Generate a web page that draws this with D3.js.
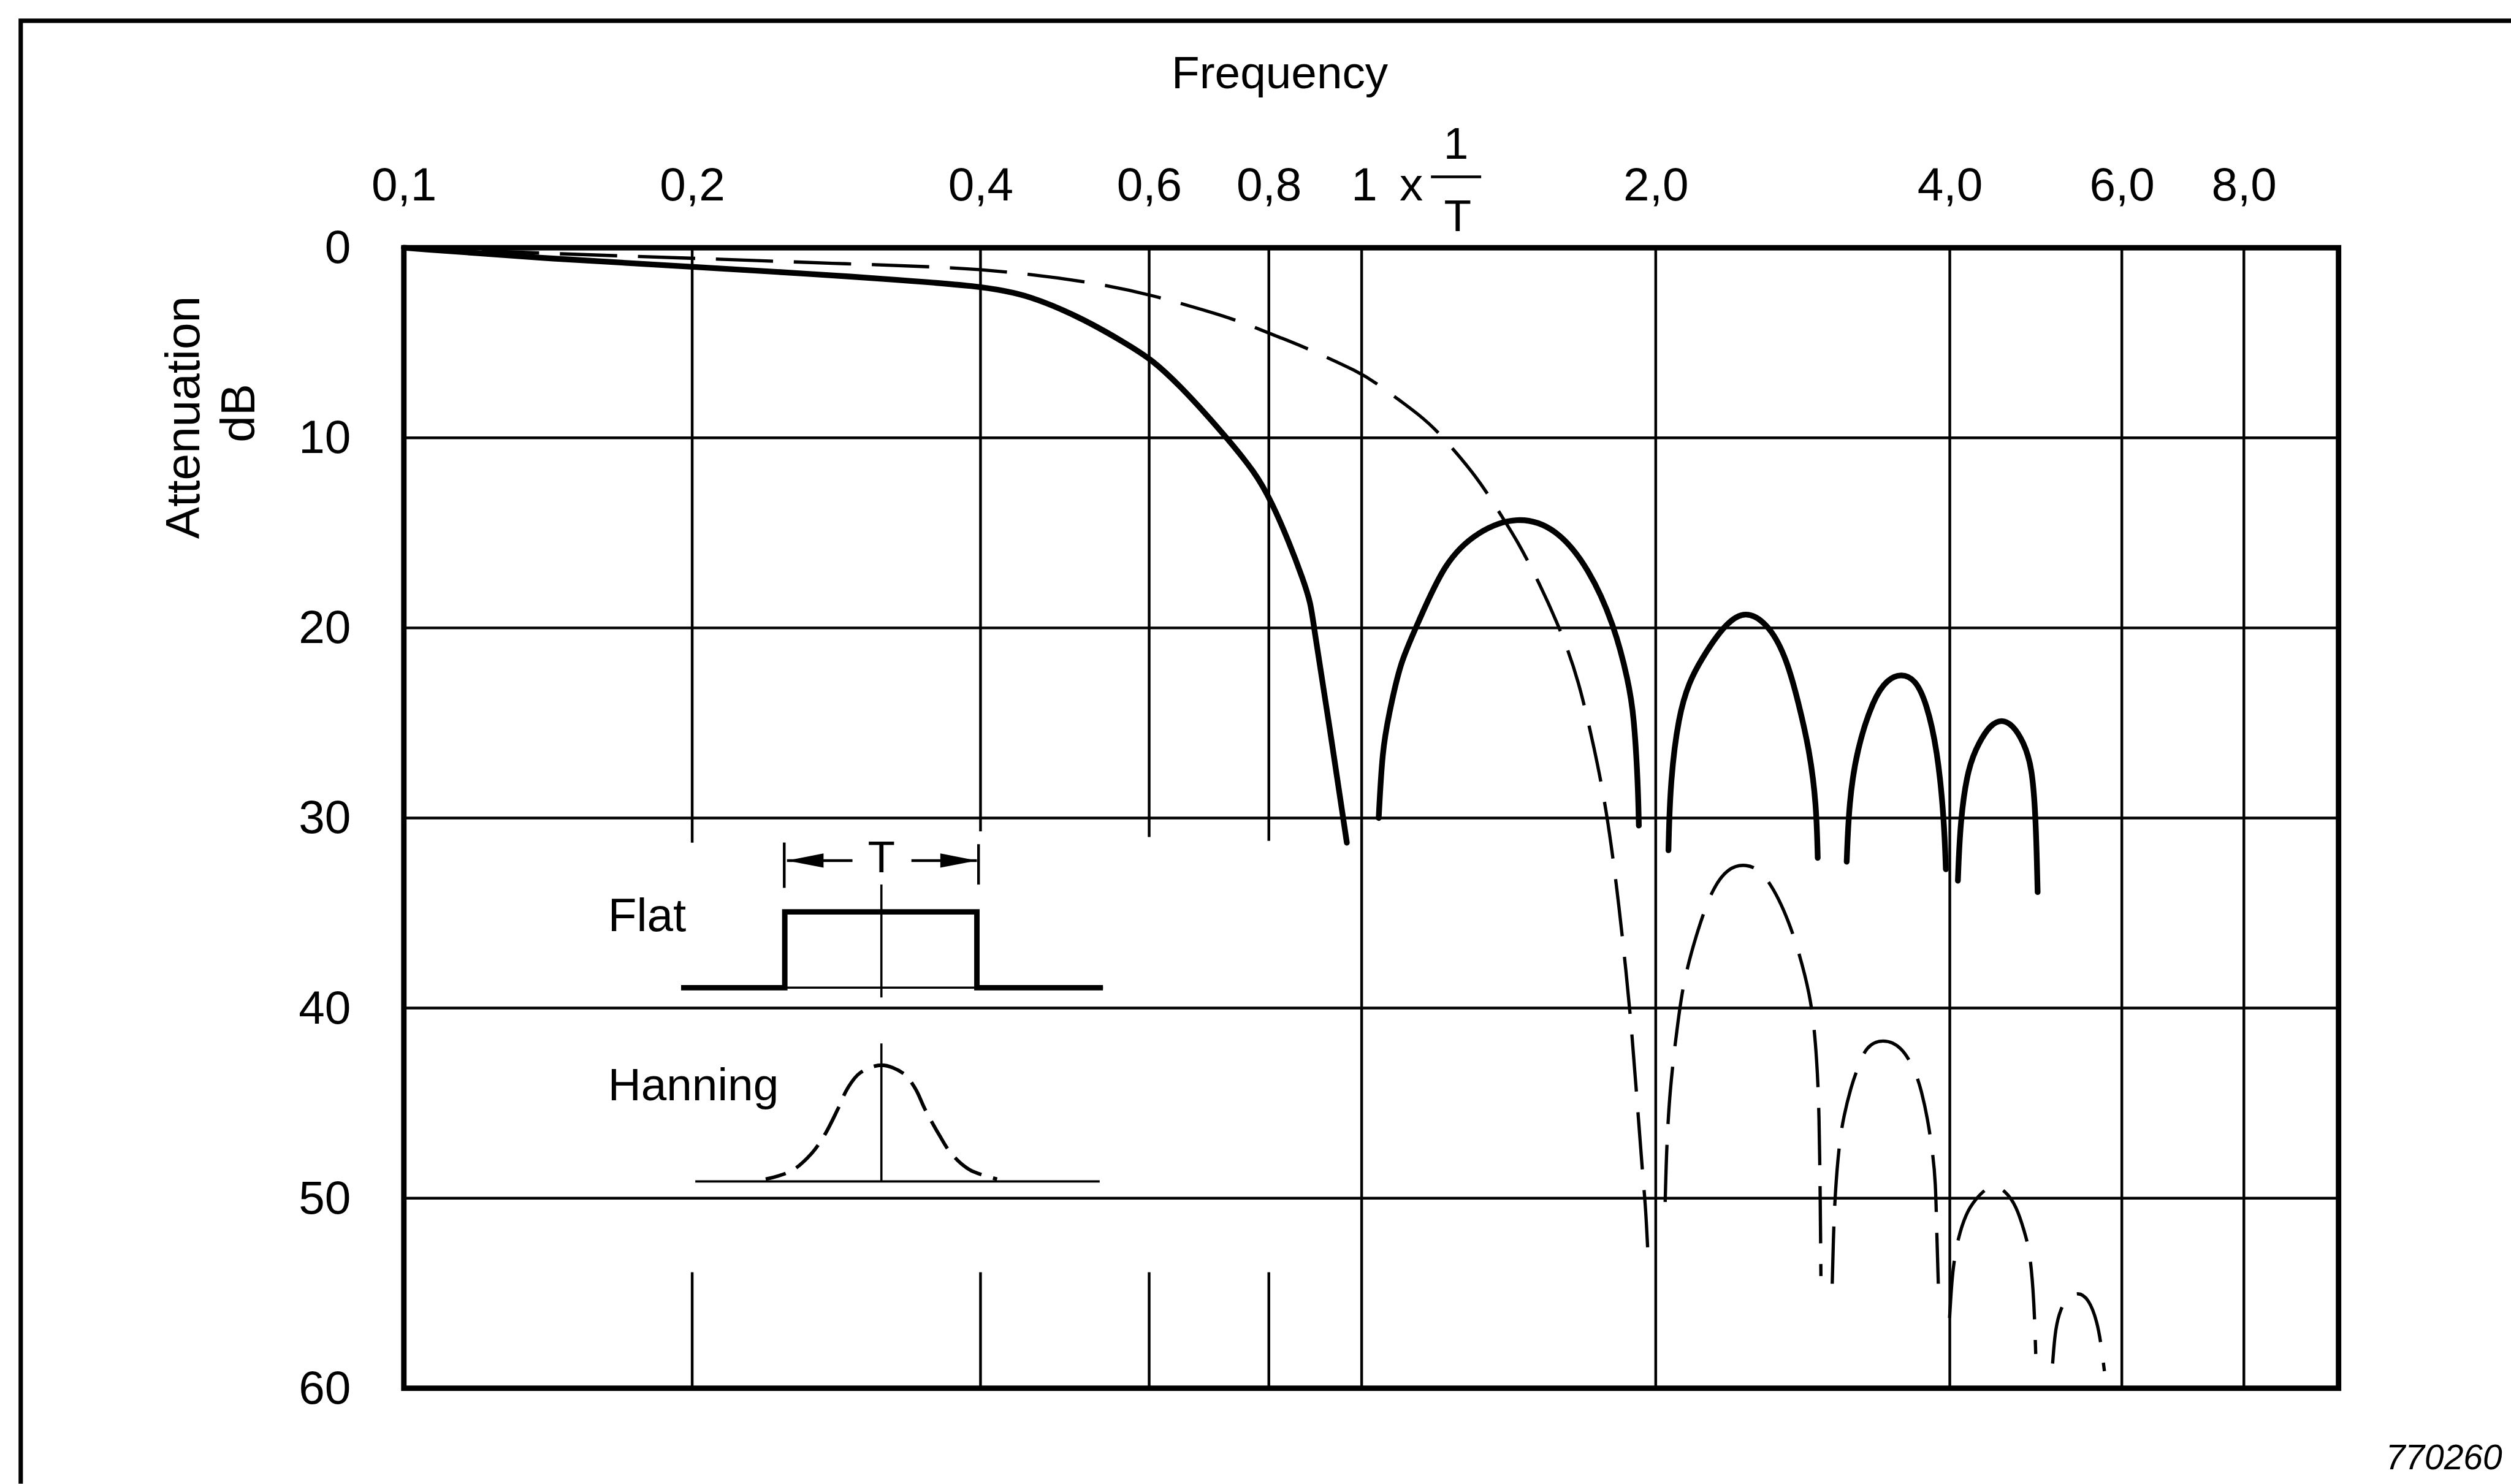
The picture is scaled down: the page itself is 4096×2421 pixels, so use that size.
<!DOCTYPE html>
<html>
<head>
<meta charset="utf-8">
<script src="https://cdn.jsdelivr.net/npm/d3@7"></script>
<style>
  html, body { margin: 0; padding: 0; background: #fff; }
  svg { display: block; }
  text { font-family: "Liberation Sans", Arial, sans-serif; fill: #000; }
</style>
</head>
<body>
<svg id="chart"></svg>
<script>
// ---- data (frequency in units of 1/T, attenuation in dB) ----
const freqTicks = [0.1, 0.2, 0.4, 0.6, 0.8, 1, 2, 4, 6, 8];
const freqLabels = ["0,1", "0,2", "0,4", "0,6", "0,8", "", "2,0", "4,0", "6,0", "8,0"];
const dbTicks = [0, 10, 20, 30, 40, 50, 60];
const fullGrid = [1, 2, 4, 6, 8];
const brokenGrid = [0.2, 0.4, 0.6, 0.8];
const brokenTopEnd = [31.3, 30.7, 31.0, 31.2];  // dB where upper part stops
const brokenLowStart = 53.9;                    // dB where lower stub starts

// Flat (rectangular) window - solid
const flatMain = [[0.1, 0], [0.144, 0.6], [0.2, 1.0], [0.271, 1.4], [0.309, 1.6], [0.4, 2.0],
  [0.451, 2.5], [0.515, 3.8], [0.566, 5.0], [0.605, 5.9], [0.647, 7.3], [0.692, 8.9], [0.72, 9.9],
  [0.774, 11.8], [0.806, 13.4], [0.84, 15.5], [0.868, 17.4], [0.885, 18.7], [0.891, 19.9],
  [0.922, 24.6], [0.965, 31.3]];
const flatLobe1 = [[1.041, 30.0], [1.05, 26.4], [1.066, 24.6], [1.095, 21.8], [1.139, 19.9],
  [1.216, 16.5], [1.315, 14.9], [1.442, 14.1], [1.581, 14.7], [1.711, 16.9], [1.815, 19.9],
  [1.875, 22.8], [1.90, 24.6], [1.918, 28.2], [1.922, 30.4]];
const flatLobe2 = [[2.061, 31.7], [2.069, 28.2], [2.11, 24.6], [2.166, 22.8], [2.224, 21.7],
  [2.344, 19.9], [2.47, 19.0], [2.62, 19.9], [2.726, 21.7], [2.799, 23.9], [2.873, 26.4],
  [2.92, 29.2], [2.93, 32.1]];
const flatLobe3 = [[3.137, 32.3], [3.154, 29.2], [3.212, 26.4], [3.342, 23.7], [3.452, 22.7],
  [3.567, 22.4], [3.687, 22.7], [3.784, 23.9], [3.885, 26.4], [3.947, 30.1], [3.963, 32.7]];
const flatLobe4 = [[4.077, 33.3], [4.10, 30.1], [4.176, 27.3], [4.287, 26.0], [4.40, 25.1],
  [4.52, 24.8], [4.64, 25.1], [4.76, 26.0], [4.857, 27.3], [4.90, 30.1], [4.92, 33.9]];

// Hanning window - dashed
const hanMain = [[0.1, 0], [0.15, 0.35], [0.2, 0.55], [0.227, 0.65], [0.29, 0.85], [0.364, 1.0],
  [0.44, 1.3], [0.535, 1.9], [0.605, 2.5], [0.687, 3.3], [0.74, 3.8], [0.829, 4.8], [0.869, 5.2],
  [1.0, 6.6], [1.033, 7.1], [1.155, 8.9], [1.208, 9.9], [1.315, 12.1], [1.386, 14.0],
  [1.443, 15.4], [1.519, 17.6], [1.601, 20.2], [1.667, 22.7], [1.732, 26.4], [1.78, 29.5],
  [1.826, 33.7], [1.869, 38.5], [1.89, 41.2], [1.915, 45.0], [1.94, 48.9], [1.953, 50.4],
  [1.966, 53.5]];
const hanLobe1 = [[2.045, 50.2], [2.058, 45.0], [2.113, 40.2], [2.139, 38.5], [2.195, 36.3],
  [2.283, 33.7], [2.375, 32.6], [2.47, 32.4], [2.586, 32.8], [2.744, 35.4], [2.854, 38.5],
  [2.897, 40.3], [2.924, 42.7], [2.94, 45.4], [2.948, 50.4], [2.952, 54.1]];
const hanLobe2 = [[3.032, 54.5], [3.04, 52.1], [3.052, 49.8], [3.081, 47.2], [3.114, 45.7],
  [3.175, 44.0], [3.218, 43.2], [3.282, 42.0], [3.414, 41.6], [3.575, 42.0], [3.694, 43.4],
  [3.743, 44.4], [3.793, 45.7], [3.842, 47.6], [3.868, 49.1], [3.878, 51.6], [3.893, 54.5]];
const hanLobe3 = [[3.998, 56.3], [4.024, 53.8], [4.077, 52.1], [4.157, 50.8], [4.24, 50.1],
  [4.41, 49.2], [4.558, 49.6], [4.679, 50.4], [4.773, 51.8], [4.835, 52.9], [4.88, 55.5],
  [4.898, 58.2]];
const hanLobe4 = [[5.097, 58.7], [5.13, 56.8], [5.197, 55.8], [5.266, 55.3], [5.408, 54.9],
  [5.552, 55.3], [5.662, 56.5], [5.714, 57.7], [5.759, 59.1]];

// legend icon of the Hanning window (offset from centre, relative height)
const hanIcon = [[-212, 0.02], [-165, 0.09], [-128, 0.24], [-104, 0.40], [-80, 0.62], [-62, 0.80],
  [-40, 0.93], [0, 1], [40, 0.93], [62, 0.80], [80, 0.62], [106, 0.40], [128, 0.24],
  [162, 0.10], [212, 0.02]];

// ---- drawing (laid out in reference pixels, then scaled to the window) ----
const k = 4096 / 4601;
const svg = d3.select("#chart").attr("width", 4096).attr("height", 2421);
const g = svg.append("g").attr("transform", `scale(${k})`);

const x = d3.scaleLog().domain([0.1, 1, 10]).range([740, 2495, 4285]);
const y = d3.scaleLinear().domain([0, 60]).range([454, 2544]);

// outer frame (runs off the right and bottom edge)
g.append("path").attr("d", "M38,2719V38H4601")
  .attr("fill", "none").attr("stroke", "#000").attr("stroke-width", 8);

// grid
const grid = g.append("g").attr("stroke", "#000").attr("stroke-width", 5);
grid.selectAll(".h").data(dbTicks.slice(1, -1)).enter().append("line")
  .attr("x1", x(0.1)).attr("x2", x(10))
  .attr("y1", d => y(d)).attr("y2", d => y(d));
grid.selectAll(".v").data(fullGrid).enter().append("line")
  .attr("x1", d => x(d)).attr("x2", d => x(d))
  .attr("y1", y(0)).attr("y2", y(60));
brokenGrid.forEach((f, i) => {
  grid.append("line").attr("x1", x(f)).attr("x2", x(f)).attr("y1", y(0)).attr("y2", y(brokenTopEnd[i]));
  grid.append("line").attr("x1", x(f)).attr("x2", x(f)).attr("y1", y(brokenLowStart)).attr("y2", y(60));
});

// plot border
g.append("rect")
  .attr("x", x(0.1)).attr("y", y(0))
  .attr("width", x(10) - x(0.1)).attr("height", y(60) - y(0))
  .attr("fill", "none").attr("stroke", "#000").attr("stroke-width", 10);

// axes
const xAxis = g.append("g").attr("transform", `translate(0,${y(0)})`)
  .call(d3.axisTop(x).tickValues(freqTicks).tickSize(0).tickPadding(87)
    .tickFormat((d, i) => freqLabels[i]));
xAxis.select(".domain").remove();
xAxis.selectAll("text").attr("font-size", 86)
  .attr("font-family", '"Liberation Sans", Arial, sans-serif');

const yAxis = g.append("g").attr("transform", `translate(${x(0.1)},0)`)
  .call(d3.axisLeft(y).tickValues(dbTicks).tickSize(0).tickPadding(97));
yAxis.select(".domain").remove();
yAxis.selectAll("text").attr("font-size", 86)
  .attr("font-family", '"Liberation Sans", Arial, sans-serif');

// special "1 x 1/T" label
const one = g.append("g");
one.append("text").attr("x", x(1) + 5).attr("y", 367).attr("text-anchor", "middle")
  .attr("font-size", 86).text("1");
one.append("text").attr("x", 2586).attr("y", 367).attr("text-anchor", "middle")
  .attr("font-size", 86).text("x");
one.append("line").attr("x1", 2622).attr("x2", 2714).attr("y1", 324).attr("y2", 324)
  .attr("stroke", "#000").attr("stroke-width", 5);
one.append("text").attr("x", 2668).attr("y", 291).attr("text-anchor", "middle")
  .attr("font-size", 82).text("1");
one.append("text").attr("x", 2671).attr("y", 423).attr("text-anchor", "middle")
  .attr("font-size", 82).text("T");

// titles
g.append("text").attr("x", 2345).attr("y", 162).attr("text-anchor", "middle")
  .attr("font-size", 84).text("Frequency");
g.append("text").attr("transform", "translate(365,765) rotate(-90)")
  .attr("text-anchor", "middle").attr("font-size", 88).text("Attenuation");
g.append("text").attr("transform", "translate(466,757) rotate(-90)")
  .attr("text-anchor", "middle").attr("font-size", 88).text("dB");
g.append("text").attr("x", 4585).attr("y", 2693).attr("font-size", 64)
  .attr("text-anchor", "end").attr("font-style", "italic").text("770260");

// curves (B-spline smooths the hand-read points)
const line = d3.line().x(d => x(d[0])).y(d => y(d[1])).curve(d3.curveBasis);

g.append("g").selectAll("path")
  .data([hanMain, hanLobe1, hanLobe2, hanLobe3, hanLobe4]).enter().append("path")
  .attr("d", line).attr("fill", "none").attr("stroke", "#000")
  .attr("stroke-width", 6).attr("stroke-dasharray", "105 38");

g.append("g").selectAll("path")
  .data([flatMain, flatLobe1, flatLobe2, flatLobe3, flatLobe4]).enter().append("path")
  .attr("d", line).attr("fill", "none").attr("stroke", "#000")
  .attr("stroke-width", 10.5).attr("stroke-linecap", "round").attr("stroke-linejoin", "round");

// legend: Flat
const leg = g.append("g").attr("stroke", "#000").attr("fill", "none");
g.append("text").attr("x", 1114).attr("y", 1706).attr("font-size", 86).text("Flat");
leg.append("line").attr("x1", 1248).attr("x2", 2021).attr("y1", 1810).attr("y2", 1810).attr("stroke-width", 4);
leg.append("path").attr("d", "M1248,1810H1438V1671H1790V1810H2021").attr("stroke-width", 10);
leg.append("line").attr("x1", 1615).attr("x2", 1615).attr("y1", 1621).attr("y2", 1828).attr("stroke-width", 4);
leg.append("line").attr("x1", 1437).attr("x2", 1437).attr("y1", 1544).attr("y2", 1627).attr("stroke-width", 5);
leg.append("line").attr("x1", 1793).attr("x2", 1793).attr("y1", 1547).attr("y2", 1621).attr("stroke-width", 5);
leg.append("line").attr("x1", 1442).attr("x2", 1562).attr("y1", 1577).attr("y2", 1577).attr("stroke-width", 5);
leg.append("line").attr("x1", 1670).attr("x2", 1790).attr("y1", 1577).attr("y2", 1577).attr("stroke-width", 5);
g.append("path").attr("d", "M1442,1577L1509,1564L1509,1590Z").attr("fill", "#000");
g.append("path").attr("d", "M1790,1577L1723,1564L1723,1590Z").attr("fill", "#000");
g.append("text").attr("x", 1615).attr("y", 1599).attr("text-anchor", "middle")
  .attr("font-size", 82).text("T");

// legend: Hanning
g.append("text").attr("x", 1114).attr("y", 2016).attr("font-size", 84).text("Hanning");
leg.append("line").attr("x1", 1274).attr("x2", 2015).attr("y1", 2165).attr("y2", 2165).attr("stroke-width", 4);
leg.append("line").attr("x1", 1615).attr("x2", 1615).attr("y1", 1912).attr("y2", 2165).attr("stroke-width", 4);
const ix = d3.scaleLinear().domain([-212, 212]).range([1403, 1827]);
const iy = d3.scaleLinear().domain([0, 1]).range([2165, 1952]);
leg.append("path")
  .attr("d", d3.line().x(d => ix(d[0])).y(d => iy(d[1])).curve(d3.curveCatmullRom.alpha(0.5))(hanIcon))
  .attr("stroke-width", 6.5).attr("stroke-dasharray", "58 22").attr("stroke-dashoffset", 20);
</script>
</body>
</html>
